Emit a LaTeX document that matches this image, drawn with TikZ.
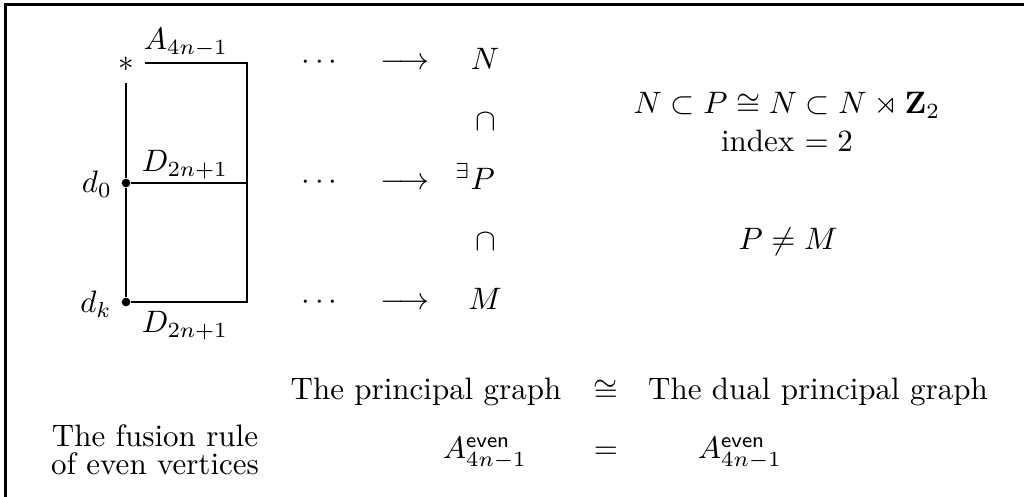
\documentclass[tikz,border=0pt]{standalone}
\usepackage{amsmath,amssymb}
\begin{document}
\begin{tikzpicture}[x=0.3226pt, y=-0.3226pt, line width=0.7pt, lbl/.style={anchor=base}, vtx/.style={circle, fill, inner sep=0pt, minimum size=2.8pt}]
        \useasboundingbox (0,0) rectangle (1024,497);
        \coordinate (fb) at (5.5,497);
        \coordinate (fc) at (5.5,4.5);
        \coordinate (fr) at (1024,4.5);
        \draw[line width=0.9pt] (fb) -- (fc) -- (fr);
        \node (star) at (126,64) {$*$};
        \node[vtx] (d0) at (126,183) {};
        \node[vtx] (dk) at (126,302) {};
        \foreach \n/\y in {a/63,b/183,c/302} {
            \coordinate (r\n) at (247,\y);
        }
        \draw (star.east |- ra) -- (ra) -- (rc) -- (dk) -- (d0) -- (star);
        \draw (d0) -- (rb);
        \node[lbl] (lA) at (186,50) {$A_{4n-1}$};
        \node[lbl] (lDb) at (185,172) {$D_{2n+1}$};
        \node[lbl] (lDc) at (185,333) {$D_{2n+1}$};
        \node[lbl] (ld0) at (97,193) {$d_0$};
        \node[lbl] (ldk) at (96,313) {$d_k$};
        \foreach \y/\i in {70/1,190/2,310/3} {
            \node[lbl] (dots\i) at (322,\y) {$\cdots$};
            \node[lbl] (arr\i) at (405,\y) {$\longrightarrow$};
        }
        \node[lbl] (N) at (485,70) {$N$};
        \node[lbl] (P) at (475,190) {${}^{\exists}P$};
        \node[lbl] (M) at (485,310) {$M$};
        \node[lbl] (capa) at (486,131) {$\cap$};
        \node[lbl] (capb) at (486,251) {$\cap$};
        \node[align=center] (iso) at (787,122) {$N\subset P\cong N\subset N\rtimes\mathbf{Z}_2$\\ index $=2$};
        \node[lbl] (neq) at (788,250) {$P\neq M$};
        \node[lbl] (pg) at (426,400) {The principal graph};
        \node[lbl] (cong) at (606,400) {$\cong$};
        \node[lbl] (dpg) at (818,400) {The dual principal graph};
        \node[align=center] (fus) at (155,450) {The fusion rule\\[-3pt] of even vertices};
        \node[lbl] (Aa) at (485,459) {$A^{\mathsf{even}}_{4n-1}$};
        \node[lbl] (eq) at (606,459) {$=$};
        \node[lbl] (Ab) at (740,459) {$A^{\mathsf{even}}_{4n-1}$};
\end{tikzpicture}
\end{document}
